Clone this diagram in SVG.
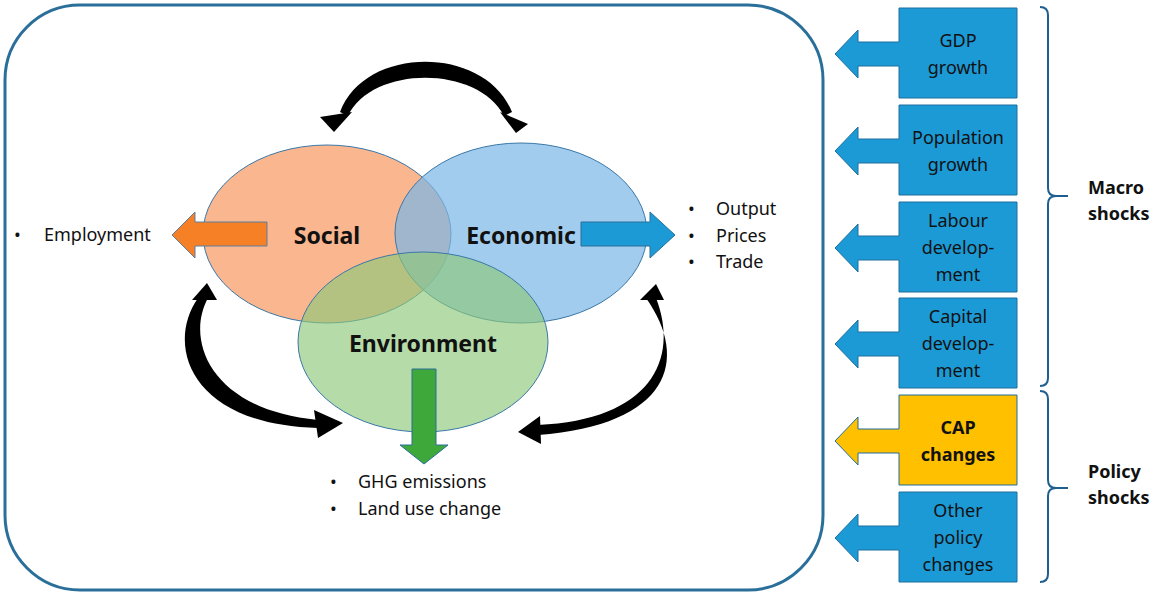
<svg xmlns="http://www.w3.org/2000/svg" width="1158" height="596" viewBox="0 0 1158 596">
<style>
text{font-family:"Noto Sans","Liberation Sans",sans-serif;fill:#111}
.t{font-size:18px}
.b{font-size:23px;font-weight:bold}
.bx{fill:#1c9ad6;stroke:#1f6f9f;stroke-width:1}
.lbl{font-size:18px;text-anchor:middle}
.br{fill:none;stroke:#1f5f8f;stroke-width:2}
</style>
<rect x="5" y="5" width="818" height="585" rx="75" fill="#fff" stroke="#2a6f9a" stroke-width="3"/>
<g id="social"><ellipse cx="327" cy="234" rx="124" ry="89" fill="#f8a97b" fill-opacity="0.85" stroke="#3a78a8" stroke-width="1"/></g>
<g id="economic"><ellipse cx="521" cy="233" rx="126" ry="90" fill="#7ab7e6" fill-opacity="0.7" stroke="#3a78a8" stroke-width="1"/></g>
<g id="environment"><ellipse cx="423" cy="342" rx="125" ry="90" fill="#8dc87a" fill-opacity="0.65" stroke="#3a78a8" stroke-width="1"/></g>
<text class="b" x="327" y="244" text-anchor="middle">Social</text>
<text class="b" x="521" y="244" text-anchor="middle">Economic</text>
<text class="b" x="423" y="352" text-anchor="middle">Environment</text>
<g id="connectors">
<polygon points="267,222 195,222 195,212 172,235 195,258 195,246 267,246" fill="#f58025" stroke="#5a7fa0" stroke-width="1"/>
<polygon points="581,222 650,222 650,212 675,235 650,258 650,246 581,246" fill="#1c9ad6" stroke="#2a6f9a" stroke-width="1"/>
<polygon points="412,369 436,369 436,445 448,445 424,464 400,445 412,445" fill="#3ea83a" stroke="#2a6f9a" stroke-width="1"/>
<path d="M340,112 C365,45 485,45 512,112 L504,116 C478,65 372,65 348,116 Z" fill="#000"/>
<polygon points="320,117 352,112 334,132" fill="#000"/>
<polygon points="500,112 528,124 516,133" fill="#000"/>
<path d="M208,298 C185,340 210,410 318,420 L318,428 C190,425 165,345 198,298 Z" fill="#000"/>
<polygon points="192,300 217,300 207,283" fill="#000"/>
<polygon points="314,410 343,423 318,438" fill="#000"/>
<path d="M656,298 C680,360 650,420 538,425 L538,435 C670,425 690,360 646,298 Z" fill="#000"/>
<polygon points="640,300 664,300 656,284" fill="#000"/>
<polygon points="540,416 518,432 541,444" fill="#000"/>
</g>
<text class="t" x="14" y="241">•</text><text class="t" x="44" y="241">Employment</text>
<text class="t" x="688" y="215">•</text><text class="t" x="716" y="215">Output</text>
<text class="t" x="688" y="242">•</text><text class="t" x="716" y="242">Prices</text>
<text class="t" x="688" y="268">•</text><text class="t" x="716" y="268">Trade</text>
<text class="t" x="330" y="488">•</text><text class="t" x="358" y="488">GHG emissions</text>
<text class="t" x="330" y="515">•</text><text class="t" x="358" y="515">Land use change</text>
<g id="gdp"><path class="bx" d="M899,8 H1017 V98 H899 V66 H858 V78 L835,54 858,30 V42 H899 Z"/><text class="lbl" x="958" y="47">GDP</text><text class="lbl" x="958" y="74">growth</text></g>
<g id="pop"><path class="bx" d="M899,105 H1017 V195 H899 V163 H858 V175 L835,151 858,127 V139 H899 Z"/><text class="lbl" x="958" y="144">Population</text><text class="lbl" x="958" y="171">growth</text></g>
<g id="labour"><path class="bx" d="M899,202 H1017 V292 H899 V260 H858 V272 L835,248 858,224 V236 H899 Z"/><text class="lbl" x="958" y="227">Labour</text><text class="lbl" x="958" y="254">develop-</text><text class="lbl" x="958" y="281">ment</text></g>
<g id="capital"><path class="bx" d="M899,298 H1017 V388 H899 V356 H858 V368 L835,344 858,320 V332 H899 Z"/><text class="lbl" x="958" y="323">Capital</text><text class="lbl" x="958" y="350">develop-</text><text class="lbl" x="958" y="377">ment</text></g>
<g id="cap"><path d="M899,395 H1017 V485 H899 V453 H858 V465 L835,441 858,417 V429 H899 Z" fill="#ffc000" stroke="#1f6f9f" stroke-width="1"/><text class="lbl" x="958" y="434" font-weight="bold">CAP</text><text class="lbl" x="958" y="461" font-weight="bold">changes</text></g>
<g id="other"><path class="bx" d="M899,492 H1017 V582 H899 V550 H858 V562 L835,538 858,514 V526 H899 Z"/><text class="lbl" x="958" y="517">Other</text><text class="lbl" x="958" y="544">policy</text><text class="lbl" x="958" y="571">changes</text></g>
<path class="br" d="M1040,7 Q1048,7 1048,15 V188 Q1048,196 1056,196 H1068 M1056,196 Q1048,196 1048,204 V378 Q1048,386 1040,386"/>
<path class="br" d="M1040,391 Q1048,391 1048,399 V480 Q1048,488 1056,488 H1068 M1056,488 Q1048,488 1048,496 V574 Q1048,582 1040,582"/>
<text x="1088" y="194" font-size="18" font-weight="bold">Macro</text>
<text x="1088" y="220" font-size="18" font-weight="bold">shocks</text>
<text x="1088" y="478" font-size="18" font-weight="bold">Policy</text>
<text x="1088" y="504" font-size="18" font-weight="bold">shocks</text>
</svg>
